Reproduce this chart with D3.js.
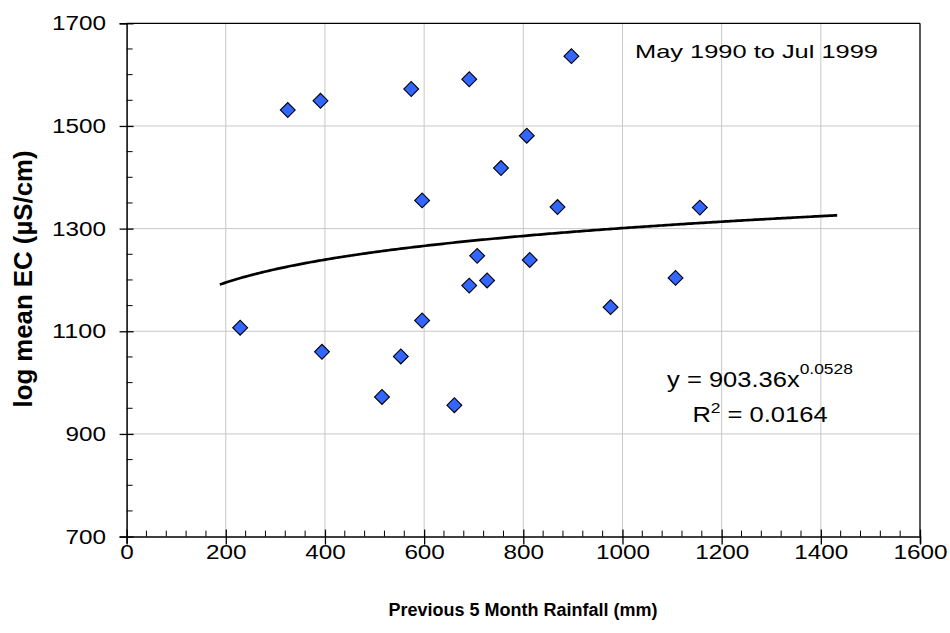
<!DOCTYPE html>
<html>
<head>
<meta charset="utf-8">
<script src="https://cdn.jsdelivr.net/npm/d3@7"></script>
<style>
  html, body { margin: 0; padding: 0; background: #fff; }
  svg { display: block; font-family: "Liberation Sans", Arial, sans-serif; }
</style>
</head>
<body>
<svg id="chart" width="950" height="633"></svg>
<script>
// ---- data ----
const rainfall = [229, 325, 391, 394, 515, 553, 574, 596, 596, 661, 691, 691, 707, 727, 755, 807, 813, 869, 897, 976, 1107, 1156];
const ecValues = [1107, 1531, 1549, 1060, 972, 1051, 1572, 1355, 1121, 956, 1591, 1189, 1247, 1199, 1418, 1481, 1239, 1342, 1636, 1147, 1204, 1341];
const xTicks = [0, 200, 400, 600, 800, 1000, 1200, 1400, 1600];
const yTicks = [700, 900, 1100, 1300, 1500, 1700];
const trendCoefA = 903.36;
const trendCoefB = 0.0528;
const trendRange = [188, 1437];
const rSquared = "0.0164";
const seriesLabel = "May 1990 to Jul 1999";
const xTitle = "Previous 5 Month Rainfall (mm)";
const yTitle = "log mean EC (\u00B5S/cm)";

// ---- layout ----
const svg = d3.select("#chart");
const L = 126.6, R = 920, T = 23.3, B = 536.6;
const x = d3.scaleLinear().domain([0, 1600]).range([L, R]);
const y = d3.scaleLinear().domain([700, 1700]).range([B, T]);
const FONT = "'Liberation Sans', Arial, sans-serif";

// gridlines
const grid = svg.append("g");
grid.selectAll(".vg").data(xTicks.slice(1, -1)).enter().append("line")
  .attr("x1", d => x(d)).attr("x2", d => x(d)).attr("y1", T).attr("y2", B)
  .attr("stroke", "#c8c8c8").attr("stroke-width", 1);
grid.selectAll(".hg").data(yTicks.slice(1, -1)).enter().append("line")
  .attr("x1", L).attr("x2", R).attr("y1", d => y(d)).attr("y2", d => y(d))
  .attr("stroke", "#c8c8c8").attr("stroke-width", 1);

// frame top/right
svg.append("line").attr("x1", L).attr("x2", R).attr("y1", T).attr("y2", T).attr("stroke", "#000").attr("stroke-width", 1.3);
svg.append("line").attr("x1", R).attr("x2", R).attr("y1", T).attr("y2", B).attr("stroke", "#000").attr("stroke-width", 1.3);

// minor ticks (inside)
const xMinor = d3.range(0, 1601, 40).filter(v => v % 200 !== 0);
const yMinor = d3.range(700, 1701, 50).filter(v => (v - 700) % 200 !== 0);
svg.append("g").selectAll("line").data(xMinor).enter().append("line")
  .attr("x1", d => x(d)).attr("x2", d => x(d)).attr("y1", B).attr("y2", B - 6)
  .attr("stroke", "#000").attr("stroke-width", 1);
svg.append("g").selectAll("line").data(yMinor).enter().append("line")
  .attr("x1", L).attr("x2", L + 6).attr("y1", d => y(d)).attr("y2", d => y(d))
  .attr("stroke", "#000").attr("stroke-width", 1);

// axes
const xAxis = d3.axisBottom(x).tickValues(xTicks).tickSize(7).tickPadding(6).tickFormat(d3.format("d"));
const yAxis = d3.axisLeft(y).tickValues(yTicks).tickSize(7).tickPadding(5).tickFormat(d3.format("d"));
const gx = svg.append("g").attr("transform", `translate(0,${B})`).call(xAxis);
const gy = svg.append("g").attr("transform", `translate(${L},0)`).call(yAxis);
const digitW = 13.5;
[gx, gy].forEach(g => {
  g.select(".domain").attr("stroke", "#000").attr("stroke-width", 1.5);
  g.selectAll(".tick line").attr("stroke", "#000").attr("stroke-width", 1.3);
  g.selectAll("text").attr("fill", "#000").style("font-size", "20px").style("font-family", FONT)
    .attr("textLength", d => String(d).length * digitW).attr("lengthAdjust", "spacingAndGlyphs");
});
// major ticks cross the axis
gx.selectAll(".tick line").attr("y1", -7).attr("y2", 8);
gy.selectAll(".tick line").attr("x1", 7).attr("x2", -7);
gx.selectAll(".tick text").attr("y", 8);
gy.selectAll(".tick text").attr("x", -20.5);

// trend line
const trendX = d3.range(trendRange[0], trendRange[1] + 1, 5);
const line = d3.line().x(d => x(d)).y(d => y(trendCoefA * Math.pow(d, trendCoefB)));
svg.append("path").datum(trendX).attr("d", line)
  .attr("fill", "none").attr("stroke", "#000").attr("stroke-width", 2.7);

// points
const pts = rainfall.map((r, i) => ({ r, v: ecValues[i] }));
const sym = d3.symbol().type(d3.symbolSquare).size(110);
svg.append("g").selectAll("path").data(pts).enter().append("path")
  .attr("d", sym)
  .attr("transform", d => `translate(${x(d.r)},${y(d.v)}) rotate(45)`)
  .attr("fill", "#3366FF").attr("stroke", "#000").attr("stroke-width", 1.1);

// series label
svg.append("text").attr("x", 635).attr("y", 58).text(seriesLabel)
  .style("font-size", "19px").attr("fill", "#000")
  .attr("textLength", 243).attr("lengthAdjust", "spacingAndGlyphs");

// equation (slightly widened text like the reference)
const eq = svg.append("text").attr("transform", "translate(760,387) scale(1.16,1)")
  .attr("text-anchor", "middle").style("font-size", "22px").attr("fill", "#000");
eq.append("tspan").text(`y = ${trendCoefA}x`);
eq.append("tspan").text(`${trendCoefB}`).attr("dy", -13).style("font-size", "15px");
const r2 = svg.append("text").attr("transform", "translate(760,422) scale(1.16,1)")
  .attr("text-anchor", "middle").style("font-size", "22px").attr("fill", "#000");
r2.append("tspan").text("R");
r2.append("tspan").text("2").attr("dy", -9).style("font-size", "15px");
r2.append("tspan").text(` = ${rSquared}`).attr("dy", 9);

// axis titles
svg.append("text").attr("x", 523).attr("y", 616).attr("text-anchor", "middle")
  .style("font-size", "18px").style("font-weight", "bold").text(xTitle);
svg.append("text").attr("transform", "translate(31.5,279) rotate(-90)").attr("text-anchor", "middle")
  .style("font-size", "25px").style("font-weight", "bold")
  .attr("textLength", 257).attr("lengthAdjust", "spacingAndGlyphs").text(yTitle);
</script>
</body>
</html>
